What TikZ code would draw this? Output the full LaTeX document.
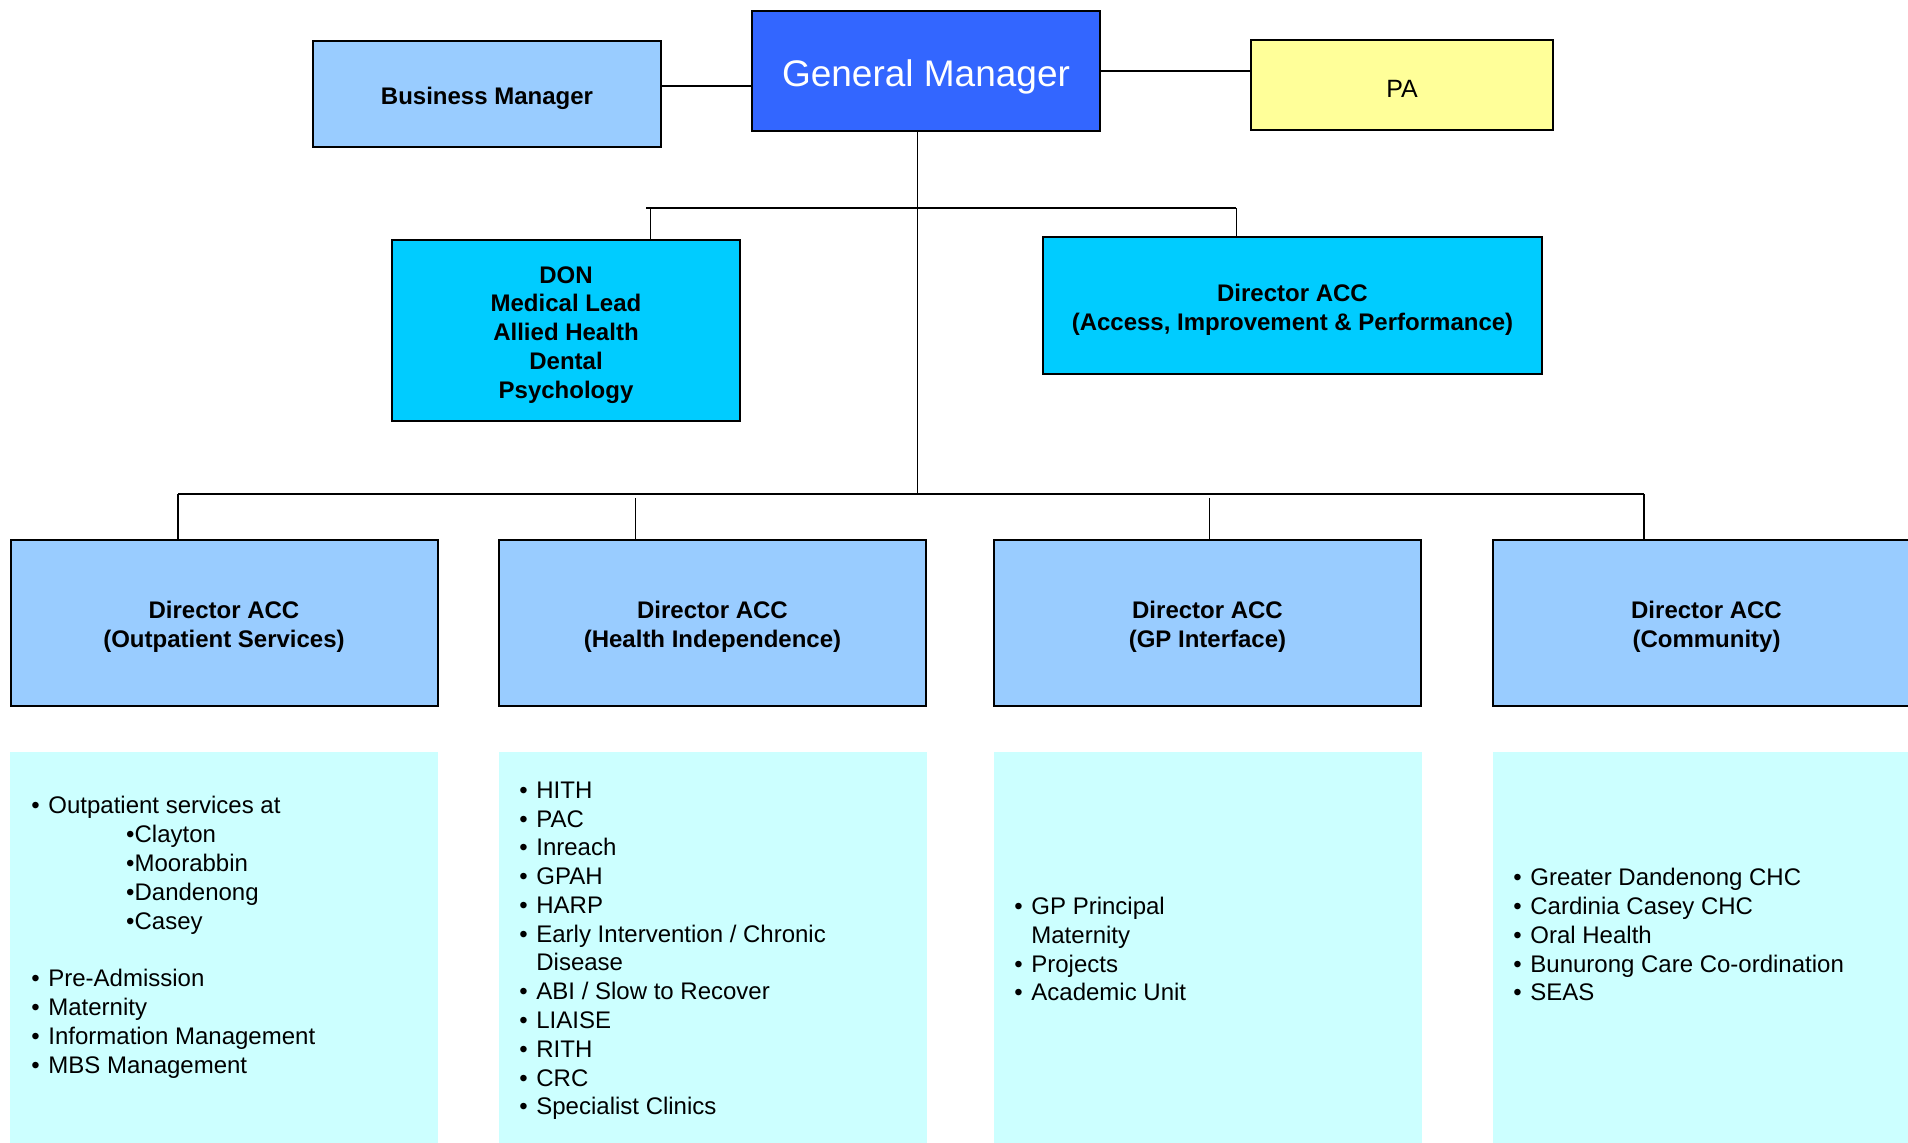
\documentclass[tikz,border=0pt]{standalone}
\usepackage{fontspec}
\setmainfont{Liberation Sans}
\usetikzlibrary{positioning}
\definecolor{gmblue}{HTML}{3366FF}
\definecolor{lightblue}{HTML}{99CCFF}
\definecolor{skyblue}{HTML}{00CCFF}
\definecolor{paleyellow}{HTML}{FFFF99}
\definecolor{palecyan}{HTML}{CCFFFF}
\newcommand{\bul}{\makebox[8.5pt][l]{•}}
\newcommand{\subbul}{\hspace*{47.4pt}•}
\newcommand{\cont}{\hspace*{8.5pt}}
\newcommand{\topgap}[1][12.8pt]{\rule{0pt}{#1}}

\begin{document}
\begin{tikzpicture}[x=0.5pt, y=-0.5pt,
    box/.style={draw=black, line width=1pt, inner sep=0pt, align=center, font=\fontsize{12}{14.4}\selectfont\bfseries},
    director/.style={box, fill=lightblue, minimum width=213.5pt, minimum height=83pt},
    listbox/.style={fill=palecyan, inner sep=0pt, minimum width=214pt, minimum height=199pt},
    lines/.style={anchor=base west, align=left, inner sep=0pt, font=\fontsize{12}{14.4}\selectfont},
    link/.style={line width=1pt},
    thin link/.style={line width=0.5pt}]
\useasboundingbox (0,0) rectangle (1908,1143);

% top row
\node[box, fill=lightblue, minimum width=174pt, minimum height=53pt] (bm) at (487,94) {\topgap Business Manager};
\node[box, fill=gmblue, text=white, font=\fontsize{18.5}{22}\selectfont, minimum width=174pt, minimum height=60pt] (gm) at (926,71) {\topgap[19.3pt]General Manager};
\node[box, fill=paleyellow, font=\fontsize{12.5}{15}\selectfont, minimum width=151pt, minimum height=45pt] (pa) at (1402,85) {\topgap PA};
\draw[link] ([yshift=4pt]bm.east) -- ([yshift=4pt]bm.east -| gm.west);
\draw[link] (gm.east) -- (gm.east -| pa.west);

% second row
\node[box, fill=skyblue, minimum width=174pt, minimum height=90.5pt] (don) at (566,330.5) {\topgap DON\\Medical Lead\\Allied Health\\Dental\\Psychology};
\node[box, fill=skyblue, minimum width=249.5pt, minimum height=68.5pt] (aip) at (1292.5,305.5) {\topgap Director ACC\\(Access, Improvement \& Performance)};
\coordinate (trunk) at (917,494);
\coordinate (top-don) at (650,208);
\coordinate (top-aip) at (1236,208);
\draw[thin link] (gm.south -| trunk) -- (trunk);
\draw[link] ([xshift=-2pt]top-don) -- (top-aip);
\draw[thin link] (top-don) -- (top-don |- don.north);
\draw[thin link] (top-aip) -- (top-aip |- aip.north);

% directors
\foreach \n/\x/\t in {op/224/Outpatient Services, hi/712.5/Health Independence, gp/1207.5/GP Interface, co/1706.5/Community}
    \node[director] (\n) at (\x,623) {\topgap Director ACC\\(\t)};
\foreach \n/\x in {op/178, hi/635, gp/1209, co/1644}
    \coordinate (top-\n) at (\x,494);
\draw[link] (top-op) -- (top-co);
\draw[link] (top-op) -- (top-op |- op.north);
\draw[link] (top-co) -- (top-co |- co.north);
\draw[thin link] ([yshift=-2pt]top-hi) -- (top-hi |- hi.north);
\draw[thin link] ([yshift=-2pt]top-gp) -- (top-gp |- gp.north);

% service lists (placed by the baseline of their last line)
\foreach \n/\x in {op/224, hi/712.5, gp/1207.5, co/1706.5}
    \node[listbox] (list-\n) at (\x,951) {};
\node[lines] (items-op) at (31,1073) {\bul Outpatient services at\\ \subbul Clayton\\ \subbul Moorabbin\\ \subbul Dandenong\\ \subbul Casey\\[14.4pt]
    \bul Pre-Admission\\ \bul Maternity\\ \bul Information Management\\ \bul MBS Management};
\node[lines] (items-hi) at (519,1115) {\bul HITH\\ \bul PAC\\ \bul Inreach\\ \bul GPAH\\ \bul HARP\\ \bul Early Intervention / Chronic\\ \cont Disease\\
    \bul ABI / Slow to Recover\\ \bul LIAISE\\ \bul RITH\\ \bul CRC\\ \bul Specialist Clinics};
\node[lines] (items-gp) at (1014,1001) {\bul GP Principal\\ \cont Maternity\\ \bul Projects\\ \bul Academic Unit};
\node[lines] (items-co) at (1513,1001) {\bul Greater Dandenong CHC\\ \bul Cardinia Casey CHC\\ \bul Oral Health\\ \bul Bunurong Care Co-ordination\\ \bul SEAS};
\end{tikzpicture}
\end{document}
